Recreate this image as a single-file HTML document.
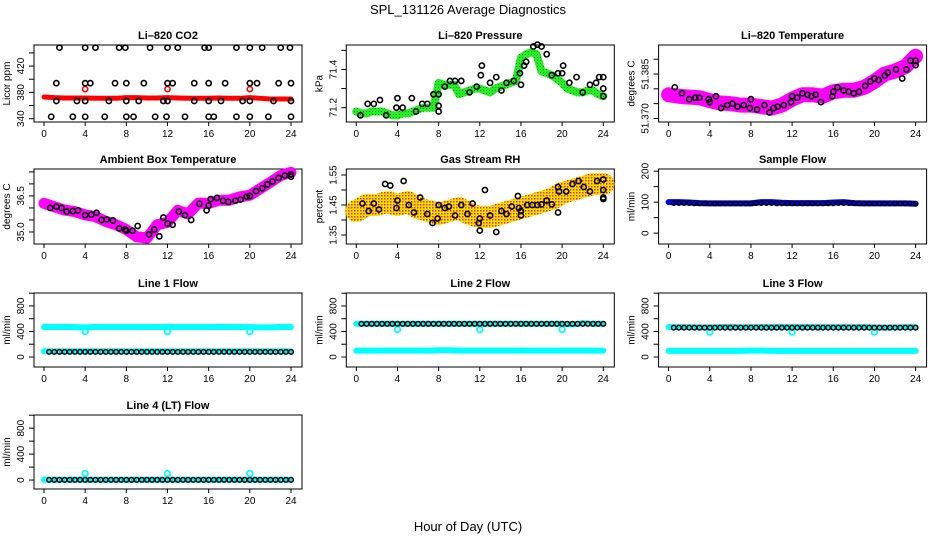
<!DOCTYPE html>
<html><head><meta charset="utf-8"><style>
body{margin:0;background:#fff;}
svg{display:block;font-family:"Liberation Sans",sans-serif;}
</style></head><body>
<svg id="c" width="936" height="540" viewBox="0 0 936 540" xmlns="http://www.w3.org/2000/svg">
<defs>
<pattern id="rhpat" width="3" height="3" patternUnits="userSpaceOnUse"><rect width="3" height="3" fill="#ffe000"/><rect width="1.5" height="1.5" fill="#e03000"/></pattern>
<pattern id="grpat" width="3" height="3" patternUnits="userSpaceOnUse"><rect width="3" height="3" fill="#22ee22"/><rect width="1" height="1" fill="#118811"/></pattern>
</defs>
<text x="468" y="14" text-anchor="middle" font-size="13">SPL_131126  Average Diagnostics</text>
<text x="468" y="531" text-anchor="middle" font-size="13">Hour of Day (UTC)</text>
</svg>
<script>
// ---- shared data ----
const HOURS = [0,1,2,3,4,5,6,7,8,9,10,11,12,13,14,15,16,17,18,19,20,21,22,23,24];
const HALF = [0.5,1,1.5,2,2.5,3,3.5,4,4.5,5,5.5,6,6.5,7,7.5,8,8.5,9,9.5,10,10.5,11,11.5,12,12.5,13,13.5,14,14.5,15,15.5,16,16.5,17,17.5,18,18.5,19,19.5,20,20.5,21,21.5,22,22.5,23,23.5,24];
const HALF0 = [0].concat(HALF);
const X_TICKS = [0,4,8,12,16,20,24];

// CO2
const co2Band = [373,372,371.5,371.5,371.5,371,371,371,372,372,371.5,371.5,372,371.5,371,371,371,371.5,371,371,372,371,370,370,370];
const co2RedX = [4,12,20];
const co2RedY = [385,385,385];
const co2BlkX = [1.5,4,5,7.3,7.9,10.3,12,13,15.6,16,18.7,20,21.2,23,23.9, 1.2,4,4.5,6.9,8,9.7,12,12.5,14.6,16,17.6,20,20.7,22.8,24, 1.2,3.2,4,6.3,8,9.2,11.6,12,14.6,16,17.2,19.3,20,22.3,24, 0.7,2.8,4,5.9,8,8.7,10.8,11.9,13.7,16,16.5,18.7,20,21.8,24];
const co2BlkY = [448,448,448,448,448,448,448,448,448,448,448,448,448,448,448, 394,394,394,394,394,394,394,394,394,394,394,394,394,394,394, 367,367,367,367,367,367,367,367,367,367,367,367,367,367,367, 343,343,343,343,343,343,343,343,343,343,343,343,343,343,343];

// Pressure
const presBand = [71.18,71.17,71.17,71.18,71.18,71.18,71.17,71.16,71.16,71.17,71.17,71.18,71.19,71.2,71.2,71.2,71.33,71.32,71.32,71.32,71.27,71.28,71.29,71.3,71.3,71.29,71.28,71.3,71.31,71.32,71.33,71.34,71.46,71.48,71.49,71.48,71.39,71.38,71.37,71.35,71.33,71.3,71.29,71.28,71.28,71.29,71.29,71.27,71.26];
const presBlkX = [0.4,1.1,1.7,2.3,2.9,3.9,4,4.5,5.4,5.8,6.4,6.9,7.5,8,8,8,8.6,9.1,9.6,10.2,11,11.7,12.2,12.1,13,13.6,14.1,14.6,15.3,15.9,16,16.3,16.5,17.2,17.6,18,18.5,19,19.6,20.1,20,20.7,21.4,22,22.7,23.3,23.6,24,24,24];
const presBlkY = [71.16,71.22,71.22,71.24,71.16,71.2,71.25,71.2,71.25,71.18,71.22,71.22,71.27,71.27,71.21,71.18,71.31,71.34,71.34,71.34,71.28,71.31,71.42,71.37,71.33,71.36,71.29,71.33,71.34,71.38,71.32,71.42,71.44,71.52,71.53,71.52,71.48,71.37,71.38,71.42,71.38,71.33,71.36,71.28,71.32,71.33,71.36,71.36,71.3,71.26];

// Li-820 temperature
const tempBand = [51.378,51.3775,51.3772,51.377,51.376,51.3752,51.375,51.3745,51.3745,51.374,51.3735,51.3745,51.3765,51.378,51.378,51.3775,51.379,51.3795,51.3795,51.3805,51.3825,51.385,51.386,51.3875,51.391];
const tempBlkX = [0.6,1.3,2,2.6,3,3.9,4,4.6,5.1,5.7,6.2,6.7,7.3,7.9,8,8.6,9.3,9.8,10.2,10.6,11.2,11.9,12,12.5,13,13.5,13.9,14.3,14.8,15.9,16,16.4,17,17.5,18,18.5,19.1,19.6,20,20.4,21,21.3,22.1,22.7,23.1,23.5,24,24];
const tempBlkY = [51.3805,51.3785,51.3765,51.377,51.377,51.3765,51.3755,51.3775,51.3735,51.3745,51.375,51.374,51.3745,51.3735,51.3765,51.373,51.3745,51.372,51.3735,51.374,51.3745,51.3755,51.3775,51.377,51.3785,51.378,51.3775,51.378,51.3755,51.3775,51.379,51.3805,51.3795,51.379,51.3785,51.379,51.381,51.3825,51.3835,51.383,51.3845,51.3855,51.3865,51.3835,51.3865,51.3895,51.3895,51.388];

// Ambient box temperature
const ambBand = [36.19,36.05,35.91,35.85,35.71,35.64,35.44,35.3,35.1,34.8,34.75,35.3,35.4,35.9,35.75,36.2,36.19,36.32,36.32,36.46,36.53,36.8,37.07,37.35,37.48];
const ambBlkX = [0.6,1.2,1.7,2.2,2.8,3.3,4,4.6,5.1,5.6,6.1,6.7,7.3,7.9,8,8.6,9.1,10.2,10.7,11.2,11.6,12,12.5,13.1,13.7,14.3,15.1,15.8,16.2,16,16.8,17.4,17.9,18.6,19.1,19.7,20,20.6,21.2,21.7,22.2,22.8,23.4,24,24];
const ambBlkY = [36.0,36.05,36.0,35.85,35.87,35.9,35.7,35.72,35.8,35.5,35.52,35.48,35.15,35.1,35.05,35.05,35.25,34.9,35.1,34.82,35.6,35.35,35.3,35.85,35.7,35.5,36.17,35.9,36.37,36.1,36.42,36.3,36.25,36.3,36.35,36.47,36.5,36.7,36.82,36.98,37.1,37.25,37.35,37.4,37.3];

// Gas stream RH
const rhBand = [1.43,1.45,1.45,1.46,1.45,1.46,1.44,1.43,1.42,1.43,1.44,1.42,1.41,1.41,1.42,1.43,1.44,1.45,1.46,1.47,1.49,1.5,1.51,1.52,1.52];
const rhBlkX = [0.6,1.2,1.7,2.2,2.8,3.3,3.9,4,4.6,5.1,5.6,6.2,6.9,7.4,8,7.9,8.6,9,9.6,10.2,10.8,11.3,11.9,12,12,12.5,13,13.6,14.1,14.6,15.1,15.7,15.8,16,16,16.6,17.1,17.6,18,18.5,19,19.6,19.6,19.7,20.4,21,21.6,22.1,22.7,23.4,24,24,24,24];
const rhBlkY = [1.455,1.43,1.455,1.435,1.52,1.515,1.44,1.465,1.53,1.45,1.425,1.475,1.42,1.39,1.45,1.405,1.44,1.445,1.415,1.45,1.42,1.455,1.39,1.365,1.405,1.5,1.415,1.36,1.43,1.42,1.445,1.48,1.44,1.415,1.43,1.45,1.45,1.45,1.452,1.465,1.452,1.51,1.425,1.495,1.495,1.52,1.53,1.51,1.495,1.53,1.535,1.5,1.475,1.47];

// Sample flow
const sfBand = [100,100,99,97,96,96,96,96,96,100,100,98,97,97,97,97,99,100,97,96,96,96,96,96,95];
const sfBlk = [97,97,97,97,96,96,96,96,96,96,96,96,96,96,96,96,97,97,97,97,96,96,96,96,96,96,96,96,96,96,96,96,97,97,97,97,96,96,96,96,96,96,96,96,96,96,96,95];

// Line flows
const l1CyanTop = [470,470,472,468,465,470,470,470,470,470,470,470,470,470,470,470,470,472,470,470,468,465,465,470,470];
const l1CyanLow = [90,90,90,90,90,90,90,90,90,90,90,90,90,90,90,90,90,90,90,90,90,90,90,90,90];
const l1Blk = [80,80,80,80,80,80,80,80,80,80,80,80,80,80,80,80,80,80,80,80,80,80,80,80,80,80,80,80,80,80,80,80,80,80,80,80,80,80,80,80,80,80,80,80,80,80,80,80];
const l1DipX = [4,12,20];
const l1DipY = [400,400,400];

const l2CyanTop = [520,520,520,520,520,520,520,520,520,520,520,520,520,520,520,520,520,520,520,520,520,510,530,520,520];
const l2CyanLow = [100,100,100,100,100,100,100,100,105,105,100,100,100,100,100,100,102,100,100,100,100,100,100,100,100];
const l2Blk = [520,520,520,520,520,520,520,520,520,520,520,520,520,520,520,520,520,520,520,520,520,520,520,520,520,520,520,520,520,520,520,520,520,520,520,520,520,520,520,520,520,520,520,520,520,520,520,520];
const l2DipX = [4,12,20];
const l2DipY = [430,430,430];

const l3CyanTop = [470,470,468,465,465,470,470,468,470,470,470,470,470,470,470,470,470,470,470,470,465,460,465,470,470];
const l3CyanLow = [95,95,95,95,95,95,95,95,100,100,95,95,95,95,95,95,95,95,95,95,95,95,95,95,95];
const l3Blk = [460,460,460,460,460,460,460,460,460,460,460,460,460,460,460,460,460,460,460,460,460,460,460,460,460,460,460,460,460,460,460,460,460,460,460,460,460,460,460,460,460,460,460,460,460,460,460,460];
const l3DipX = [4,12,20];
const l3DipY = [390,390,390];

const l4CyanLow = [5,5,5,5,5,5,5,5,5,5,5,5,5,5,5,5,5,5,5,5,5,5,5,5,5];
const l4Blk = [3,3,3,3,3,3,3,3,3,3,3,3,3,3,3,3,3,3,3,3,3,3,3,3,3,3,3,3,3,3,3,3,3,3,3,3,3,3,3,3,3,3,3,3,3,3,3,3];
const l4DipX = [4,12,20];
const l4DipY = [100,100,100];

const FLOW_TICKS = [0,200,400,600,800,1000];
const FLOW_LABELS = [0,400,800];

// ---- drawing ----
const svg = document.getElementById('c');
const NS = 'http://www.w3.org/2000/svg';
const ROW_TOP = [45,169,293,415];
const ROW_H = [77,75,74,74];
function mk(tag, parent){ const e = document.createElementNS(NS, tag); parent.appendChild(e); return e; }

function panel(name, title, ylab, col, row, ymin, ymax, yticks, ylabels, fmt){
  const L = 34 + col*312.3, W = 268, T = ROW_TOP[row], H = ROW_H[row];
  const g = mk('g', svg);
  
  
  const sx = t => L + 10 + t * (247/24);
  const sy = v => T + H - (v - ymin) / (ymax - ymin) * H;
  const box = mk('rect', g);
  box.setAttribute('x', L); box.setAttribute('y', T); box.setAttribute('width', W); box.setAttribute('height', H);
  box.setAttribute('fill', 'none'); box.setAttribute('stroke', '#000'); box.setAttribute('stroke-width', '1');
  
  
  const tt = mk('text', g);
  tt.textContent = title;
  tt.setAttribute('x', L + W/2); tt.setAttribute('y', T - 6); tt.setAttribute('text-anchor', 'middle');
  tt.setAttribute('font-size', '11'); tt.setAttribute('font-weight', 'bold');
  
  
  const yl = mk('text', g);
  yl.textContent = ylab;
  const yx = L - 24, yy = T + H/2;
  yl.setAttribute('x', yx); yl.setAttribute('y', yy); yl.setAttribute('text-anchor', 'middle');
  yl.setAttribute('font-size', '10'); yl.setAttribute('transform', 'rotate(-90 ' + yx + ' ' + yy + ')');
  
  
  X_TICKS.forEach(t => {
    const ln = mk('line', g);
    ln.setAttribute('x1', sx(t)); ln.setAttribute('x2', sx(t)); ln.setAttribute('y1', T + H); ln.setAttribute('y2', T + H + 4);
    ln.setAttribute('stroke', '#000');
    
    
    const tx = mk('text', g);
    tx.textContent = t;
    tx.setAttribute('x', sx(t)); tx.setAttribute('y', T + H + 15); tx.setAttribute('text-anchor', 'middle'); tx.setAttribute('font-size', '10');
    
    
  });
  yticks.forEach(v => {
    const ln = mk('line', g);
    ln.setAttribute('x1', L - 5); ln.setAttribute('x2', L); ln.setAttribute('y1', sy(v)); ln.setAttribute('y2', sy(v));
    ln.setAttribute('stroke', '#000');
    
    
  });
  ylabels.forEach(v => {
    const tx = mk('text', g);
    tx.textContent = fmt(v);
    const x = L - 10, y = sy(v);
    tx.setAttribute('x', x); tx.setAttribute('y', y); tx.setAttribute('text-anchor', 'middle'); tx.setAttribute('font-size', '10');
    tx.setAttribute('transform', 'rotate(-90 ' + x + ' ' + y + ')');
    
    
  });
  return {g, sx, sy, L, T, W, H};
}

function band(p, name, xs, ys, color, width){
  const pl = mk('polyline', p.g);
  pl.setAttribute('points', xs.map((t,i) => p.sx(t) + ',' + p.sy(ys[i])).join(' '));
  pl.setAttribute('fill', 'none'); pl.setAttribute('stroke', color); pl.setAttribute('stroke-width', width);
  pl.setAttribute('stroke-linejoin', 'round'); pl.setAttribute('stroke-linecap', 'round');
  
  
}
function pts(p, name, xs, ys, color, r, sw){
  xs.forEach((t,i) => {
    const c = mk('circle', p.g);
    c.setAttribute('cx', p.sx(t)); c.setAttribute('cy', p.sy(ys[i])); c.setAttribute('r', r || 2.6);
    c.setAttribute('fill', 'none'); c.setAttribute('stroke', color); c.setAttribute('stroke-width', sw || 1.6);
    
    
  });
}

// CO2
let p = panel('co2', 'Li–820 CO2', 'Licor ppm', 0, 0, 335, 452, [340,360,380,400,420,440], [340,380,420], v => v);
band(p, 'co2-red-band', HOURS, co2Band, '#ff0000', 5);
pts(p, 'co2-red-point', co2RedX, co2RedY, '#ff0000');
pts(p, 'co2-black-point', co2BlkX, co2BlkY, '#000');

// Pressure
p = panel('pressure', 'Li–820 Pressure', 'kPa', 1, 0, 71.125, 71.528, [71.2,71.3,71.4,71.5], [71.2,71.4], v => v.toFixed(1));
band(p, 'pressure-green-band', HALF0, presBand, 'url(#grpat)', 8);
pts(p, 'pressure-black-point', presBlkX, presBlkY, '#000');

// Temperature
p = panel('li820-temp', 'Li–820 Temperature', 'degrees C', 2, 0, 51.3688, 51.3948, [51.370,51.375,51.380,51.385,51.390], [51.370,51.385], v => v.toFixed(3));
band(p, 'temp-magenta-band', HOURS, tempBand, '#ff00ff', 15);
pts(p, 'temp-black-point', tempBlkX, tempBlkY, '#000');

// Ambient
p = panel('ambient-temp', 'Ambient Box Temperature', 'degrees C', 0, 1, 34.5, 37.62, [35.0,35.5,36.0,36.5,37.0,37.5], [35.0,36.5], v => v.toFixed(1));
band(p, 'ambient-magenta-band', HOURS, ambBand, '#ff00ff', 11);
pts(p, 'ambient-black-point', ambBlkX, ambBlkY, '#000');

// RH
p = panel('rh', 'Gas Stream RH', 'percent', 1, 1, 1.32, 1.57, [1.35,1.40,1.45,1.50,1.55], [1.35,1.45,1.55], v => v.toFixed(2));
band(p, 'rh-orange-band', HOURS, rhBand, 'url(#rhpat)', 22);
pts(p, 'rh-black-point', rhBlkX, rhBlkY, '#000');

// Sample flow
p = panel('sample-flow', 'Sample Flow', 'ml/min', 2, 1, -35, 207, [0,50,100,150,200], [0,100,200], v => v);
band(p, 'sample-blue-band', HOURS, sfBand, '#0000ff', 6);
pts(p, 'sample-black-point', HALF, sfBlk, '#000', 2.2, 1.4);

// Line flows
function flowPanel(name, title, col, row, top, low, blk, dx, dy){
  const q = panel(name, title, 'ml/min', col, row, row === 3 ? -138 : -157, 1003, FLOW_TICKS, FLOW_LABELS, v => v);
  if (top) band(q, name + '-cyan-top-band', HOURS, top, '#00ffff', 6);
  band(q, name + '-cyan-low-band', HOURS, low, '#00ffff', 6);
  pts(q, name + '-cyan-dip', dx, dy, '#00ffff', 2.8, 1.8);
  pts(q, name + '-black-point', HALF, blk, '#000', 2.3, 1.5);
}
flowPanel('line1-flow', 'Line 1 Flow', 0, 2, l1CyanTop, l1CyanLow, l1Blk, l1DipX, l1DipY);
flowPanel('line2-flow', 'Line 2 Flow', 1, 2, l2CyanTop, l2CyanLow, l2Blk, l2DipX, l2DipY);
flowPanel('line3-flow', 'Line 3 Flow', 2, 2, l3CyanTop, l3CyanLow, l3Blk, l3DipX, l3DipY);
flowPanel('line4-flow', 'Line 4 (LT) Flow', 0, 3, null, l4CyanLow, l4Blk, l4DipX, l4DipY);
</script>
</body></html>
